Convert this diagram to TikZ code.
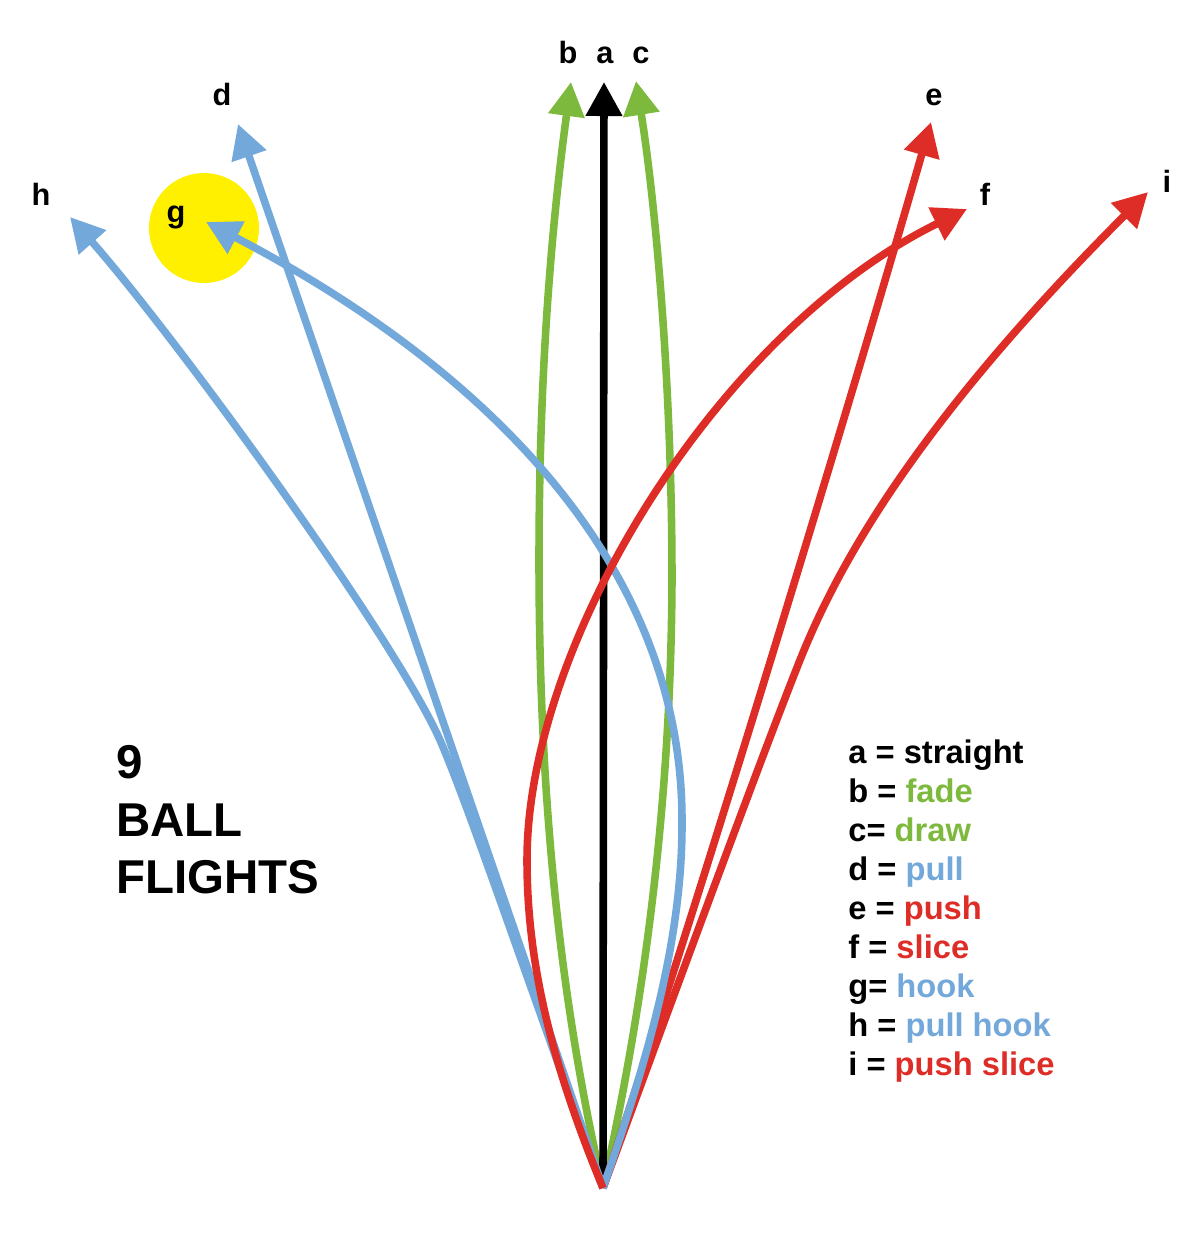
\documentclass[tikz,border=0pt]{standalone}
\usepackage{fontspec}
\setmainfont{Liberation Sans}
\usetikzlibrary{arrows.meta}
\definecolor{fgreen}{RGB}{125,185,60}
\definecolor{fblue}{RGB}{115,168,218}
\definecolor{fred}{RGB}{222,45,38}
\definecolor{fyellow}{RGB}{255,240,0}
\begin{document}
\begin{tikzpicture}[x=0.2mm,y=-0.2mm,
  flight/.style={line width=4.3pt, line cap=butt, -{Triangle[length=6.8mm,width=7mm]}},
  lbl/.style={font=\bfseries\fontsize{17.5}{20}\selectfont, anchor=base, inner sep=0pt},
  leg/.style={font=\bfseries\fontsize{18.6}{22}\selectfont, anchor=base west, inner sep=0pt},
  ttl/.style={font=\bfseries\fontsize{27}{30}\selectfont, anchor=base west, inner sep=0pt}]
\useasboundingbox (0,0) rectangle (1200,1238);
\fill[white] (0,0) rectangle (1200,1238);
% ball for hook target
\node[circle, fill=fyellow, minimum size=22mm, inner sep=0pt] (ball) at (204,228) {};
% origin and tips
\coordinate (O) at (603,1188);
\coordinate (ta) at (604,82);
\coordinate (tb) at (571,82);
\coordinate (tc) at (636,81);
\coordinate (td) at (238,124);
\coordinate (te) at (931,122);
\coordinate (tf) at (967,209);
\coordinate (tg) at (206,222);
\coordinate (th) at (70,217);
\coordinate (ti) at (1148,192);
% green: fade and draw
\draw[flight, fgreen] (O) .. controls (560,1000) and (539,800) .. (539,560)
  .. controls (539,350) and (555,200) .. (tb);
\draw[flight, fgreen] (O) .. controls (645,1000) and (671,800) .. (672,580)
  .. controls (672,380) and (655,200) .. (tc);
% black: straight
\draw[flight, black] (603,1183) -- (ta);
% blue: pull and pull hook
\draw[flight, fblue] (O) -- (td);
\draw[flight, fblue] (O) .. controls (520,960) and (470,810) .. (440,740)
  .. controls (390,630) and (170,330) .. (th);
% red: push and push slice
\draw[flight, fred] (O) .. controls (700,900) and (860,370) .. (te);
\draw[flight, fred] (O) .. controls (650,1060) and (760,760) .. (800,660)
  .. controls (840,560) and (920,420) .. (ti);
% blue: hook
\draw[flight, fblue] (O) .. controls (640,1080) and (683,950) .. (682,820)
  .. controls (682,560) and (480,365) .. (tg);
% red: slice
\draw[flight, fred] (O) .. controls (550,1060) and (527,960) .. (527,860)
  .. controls (527,640) and (720,330) .. (tf);
% arrow labels
\node[lbl] (lb) at (568,63) {b};
\node[lbl] (la) at (605,63) {a};
\node[lbl] (lc) at (641,63) {c};
\node[lbl] (ld) at (222,105) {d};
\node[lbl] (le) at (934,105) {e};
\node[lbl] (lf) at (985,205) {f};
\node[lbl] (lg) at (176,222) {g};
\node[lbl] (lh) at (41,205) {h};
\node[lbl] (li) at (1167,192) {i};
% title
\node[ttl] (t1) at (116,778) {9};
\node[ttl] (t2) at (116,836) {BALL};
\node[ttl] (t3) at (116,893) {FLIGHTS};
% legend
\node[leg] (k1) at (848,763) {a = straight};
\node[leg] (k2) at (848,802) {b = \textcolor{fgreen}{fade}};
\node[leg] (k3) at (848,841) {c= \textcolor{fgreen}{draw}};
\node[leg] (k4) at (848,880) {d = \textcolor{fblue}{pull}};
\node[leg] (k5) at (848,919) {e = \textcolor{fred}{push}};
\node[leg] (k6) at (848,958) {f = \textcolor{fred}{slice}};
\node[leg] (k7) at (848,997) {g= \textcolor{fblue}{hook}};
\node[leg] (k8) at (848,1036) {h = \textcolor{fblue}{pull hook}};
\node[leg] (k9) at (848,1075) {i = \textcolor{fred}{push slice}};
\end{tikzpicture}
\end{document}
